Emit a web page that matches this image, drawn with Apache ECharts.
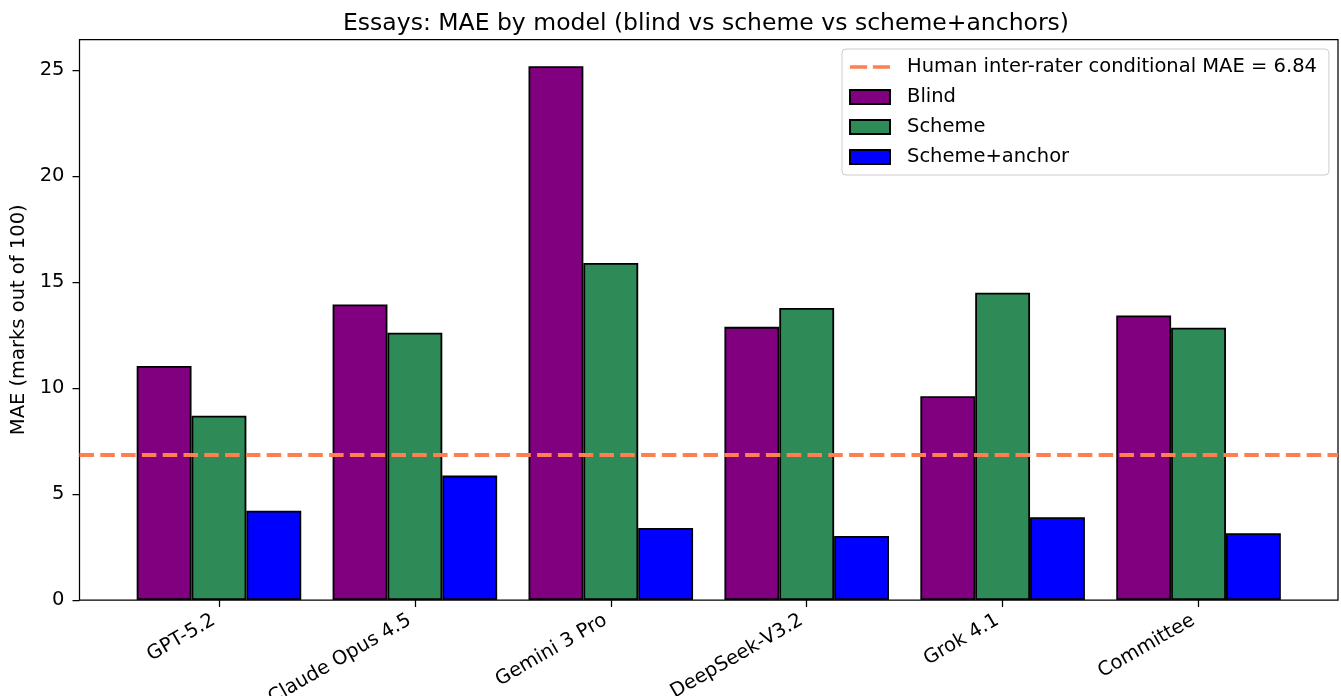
<!DOCTYPE html>
<html>
<head>
<meta charset="utf-8">
<title>Essays: MAE by model</title>
<script src="https://cdn.jsdelivr.net/npm/echarts@6/dist/echarts.min.js"></script>
<style>
  html, body { margin: 0; padding: 0; background: #fff; }
  #chart { width: 1341px; height: 696px; }
</style>
</head>
<body>
<div id="chart"></div>
<script>
// ========== data ==========
const models = ['GPT-5.2', 'Claude Opus 4.5', 'Gemini 3 Pro', 'DeepSeek-V3.2', 'Grok 4.1', 'Committee'];
const blindMae = [11.04, 13.95, 25.19, 12.89, 9.62, 13.43];
const schemeMae = [8.70, 12.61, 15.90, 13.78, 14.50, 12.85];
const anchorMae = [4.21, 5.87, 3.40, 3.02, 3.91, 3.15];
const humanMae = 6.84;
const yTicks = [0, 5, 10, 15, 20, 25];

const FONT = 'DejaVu Sans';
const yMax = 26.45;
const humanLabel = 'Human inter-rater conditional MAE = ' + humanMae.toFixed(2);

const barSeries = (name, color, values) => ({
  name,
  type: 'bar',
  xAxisIndex: 1,
  yAxisIndex: 1,
  barWidth: '28%',
  barGap: '0%',
  z: 2,
  itemStyle: { color, borderColor: '#000', borderWidth: 1.8 },
  emphasis: { disabled: true },
  data: values
});

const chart = echarts.init(document.getElementById('chart'), null, { renderer: 'canvas' });

chart.setOption({
  animation: false,
  textStyle: { fontFamily: FONT },
  title: {
    text: 'Essays: MAE by model (blind vs scheme vs scheme+anchors)',
    left: 701,
    top: 7,
    textAlign: 'center',
    textStyle: { fontFamily: FONT, fontSize: 23.5, fontWeight: 'normal', color: '#000' }
  },
  legend: {
    orient: 'vertical',
    left: 842,
    top: 49,
    padding: [8, 12, 8, 7],
    itemWidth: 40,
    itemHeight: 14,
    itemGap: 10,
    backgroundColor: 'rgba(255,255,255,0.8)',
    borderColor: '#cccccc',
    borderWidth: 1,
    borderRadius: 4,
    textStyle: { fontFamily: FONT, fontSize: 19.5, color: '#000', lineHeight: 20, padding: [0, 0, 0, 12] },
    data: [
      { name: humanLabel, icon: 'path://M0,0H15V3H0Z M20,0H35V3H20Z', itemStyle: { color: '#ff7f50', borderWidth: 0 } },
      { name: 'Blind', icon: 'rect' },
      { name: 'Scheme', icon: 'rect' },
      { name: 'Scheme+anchor', icon: 'rect' }
    ]
  },
  grid: [
    // frame + y axis
    { left: 79.5, right: 3, top: 39.5, bottom: 96, outerBoundsMode: 'none', show: true, borderColor: '#000', borderWidth: 1.25, backgroundColor: 'transparent' },
    // bars: categories placed like matplotlib's padded x-limits
    { left: 121, right: 44.5, top: 39.5, bottom: 96, outerBoundsMode: 'none' }
  ],
  xAxis: [
    { type: 'value', gridIndex: 0, min: 0, max: 1, show: false },
    {
      type: 'category',
      gridIndex: 1,
      data: models,
      axisLine: { show: false },
      axisTick: { show: true, alignWithLabel: true, length: 7, lineStyle: { color: '#000', width: 1.25 } },
      axisLabel: {
        rotate: 30,
        margin: 16,
        interval: 0,
        padding: [0, 6, 0, 0],
        fontFamily: FONT,
        fontSize: 19.5,
        color: '#000'
      },
      splitLine: { show: false }
    }
  ],
  yAxis: [
    {
      type: 'value',
      gridIndex: 0,
      min: 0,
      max: yMax,
      interval: 5,
      name: 'MAE (marks out of 100)',
      nameLocation: 'middle',
      nameGap: 47,
      nameTextStyle: { fontFamily: FONT, fontSize: 19.5, color: '#000' },
      axisLine: { show: false },
      axisTick: { show: true, length: 7, customValues: yTicks, lineStyle: { color: '#000', width: 1.25 } },
      axisLabel: { customValues: yTicks, margin: 15, fontFamily: FONT, fontSize: 19.5, color: '#000' },
      splitLine: { show: false }
    },
    { type: 'value', gridIndex: 1, min: 0, max: yMax, show: false }
  ],
  series: [
    {
      name: humanLabel,
      type: 'line',
      xAxisIndex: 0,
      yAxisIndex: 0,
      z: 5,
      symbol: 'none',
      silent: true,
      lineStyle: { color: '#ff7f50', width: 4, type: [14.5, 6.3] },
      itemStyle: { color: '#ff7f50' },
      data: [[0, humanMae], [1, humanMae]]
    },
    barSeries('Blind', '#800080', blindMae),
    barSeries('Scheme', '#2e8b57', schemeMae),
    barSeries('Scheme+anchor', '#0000ff', anchorMae)
  ]
});
</script>
</body>
</html>
